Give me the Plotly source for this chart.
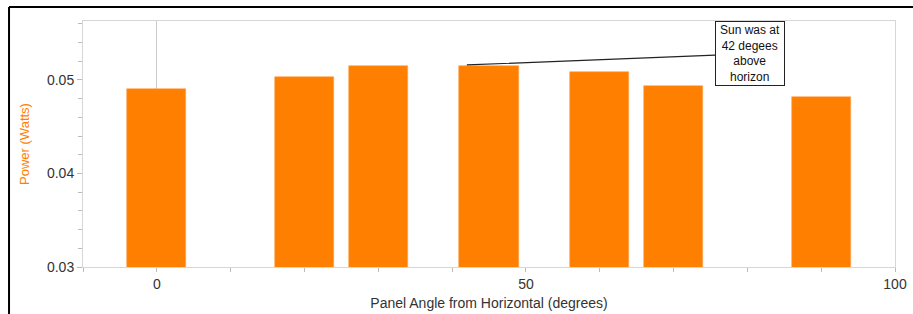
import plotly.graph_objects as go

angles = [0, 20, 30, 45, 60, 70, 90]
power = [0.0490, 0.0503, 0.0515, 0.0515, 0.0509, 0.0494, 0.0482]

sun_angle = 42
sun_power = 0.0516
note_text = "Sun was at<br>42 degees<br>above<br>horizon"

fig = go.Figure()
fig.add_trace(go.Bar(
    x=angles, y=power, width=8,
    marker=dict(color="#FF8000", line=dict(color="#FFA14D", width=0.6)),
    showlegend=False,
))

axis_col = "#d6d6d6"
fig.update_layout(
    width=913, height=314,
    margin=dict(l=83, r=18, t=21, b=47, autoexpand=False),
    paper_bgcolor="white", plot_bgcolor="white",
    font=dict(family="Arial, Liberation Sans, sans-serif", size=14, color="#333333"),
    bargap=0,
    xaxis=dict(
        range=[-10, 100], tickvals=[0, 50, 100], automargin=False,
        showgrid=False, zeroline=True, zerolinecolor="#cccccc", zerolinewidth=1,
        showline=True, linecolor=axis_col, linewidth=1, mirror=True,
        ticks="outside", ticklen=4, tickcolor="#bbbbbb",
        minor=dict(dtick=10, ticks="outside", ticklen=4, tickcolor="#bbbbbb"),
        title=dict(text="Panel Angle from Horizontal (degrees)", standoff=7,
                   font=dict(size=14, color="#333333")),
        tickfont=dict(size=14, color="#333333"),
    ),
    yaxis=dict(
        range=[0.03, 0.0563], tickvals=[0.03, 0.04, 0.05], tickformat=".2f",
        automargin=False,
        showgrid=False, zeroline=False,
        showline=True, linecolor=axis_col, linewidth=1, mirror=True,
        ticks="outside", ticklen=5, tickcolor="#bbbbbb",
        minor=dict(dtick=0.002, ticks="outside", ticklen=4, tickcolor="#bbbbbb"),
        title=dict(text="Power (Watts)", standoff=14,
                   font=dict(size=13, color="#FF8000")),
        tickfont=dict(size=14, color="#333333"),
    ),
    annotations=[dict(
        x=sun_angle, y=sun_power, xref="x", yref="y",
        text=note_text, showarrow=True, arrowhead=0, arrowwidth=1.2,
        arrowcolor="#222222", ax=80.3, ay=0.0528, axref="x", ayref="y",
        bordercolor="#222222", borderwidth=1, borderpad=1, bgcolor="white",
        font=dict(size=12, color="#111111"), align="center",
        width=66,
    )],
    shapes=[
        dict(type="line", xref="paper", yref="paper", x0=-0.0911, x1=1.03,
             y0=1.0569, y1=1.0569, line=dict(color="black", width=2)),
        dict(type="line", xref="paper", yref="paper", x0=-0.0911, x1=-0.0911,
             y0=-0.2, y1=1.0569, line=dict(color="black", width=2)),
    ],
)

fig.write_html(
    "out.html",
    config={"displayModeBar": False},
    post_script="document.body.style.margin='0';document.body.style.overflow='hidden';",
)
